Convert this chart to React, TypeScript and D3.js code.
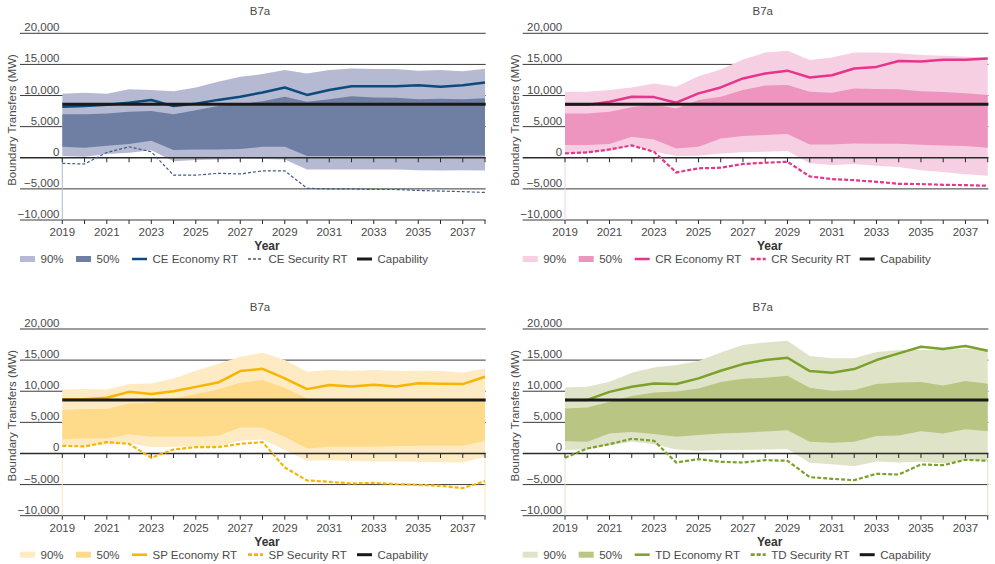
import React from "react";
import * as d3 from "d3";

const years = d3.range(2019, 2039);
const yTicks = [-10000, -5000, 0, 5000, 10000, 15000, 20000];
const xLabelYears = [2019, 2021, 2023, 2025, 2027, 2029, 2031, 2033, 2035, 2037];
const capability = 8600;

const ceEconomy = [8200, 8300, 8500, 8850, 9270, 8300, 8700, 9300, 9800, 10500, 11300, 10100, 10900, 11500, 11500, 11500, 11650, 11400, 11650, 12100];
const ceSecurity = [-900, -1000, 850, 1770, 960, -2800, -2800, -2500, -2600, -2100, -2100, -4900, -5000, -5000, -5100, -5100, -5250, -5350, -5450, -5570];
const ce90High = [10300, 10450, 10300, 11000, 10900, 10700, 11300, 12200, 13000, 13450, 14100, 13550, 14100, 14350, 14250, 14250, 14000, 14100, 13900, 14300];
const ce90Low = [300, 160, 600, 800, 1200, -540, -370, -270, -160, -200, -270, -1900, -1900, -1900, -1900, -1900, -2000, -2050, -2000, -2050];
const ce50High = [7000, 7000, 7100, 7400, 7500, 7000, 7650, 8300, 8600, 9100, 9800, 9000, 9400, 9900, 9700, 9650, 9400, 9500, 9400, 9550];
const ce50Low = [1770, 1600, 1930, 2200, 2730, 1230, 1340, 1340, 1400, 1770, 1770, 270, 270, 300, 300, 300, 300, 320, 350, 375];

const crEconomy = [8500, 8500, 9000, 9800, 9750, 8850, 10350, 11300, 12750, 13550, 14000, 12900, 13250, 14350, 14600, 15550, 15450, 15750, 15750, 15970];
const crSecurity = [700, 860, 1340, 1980, 960, -2360, -1700, -1600, -1000, -800, -640, -3000, -3430, -3600, -3860, -4180, -4230, -4340, -4400, -4500];
const cr90High = [10600, 10600, 10900, 11300, 11950, 11400, 13100, 14200, 15800, 16900, 17200, 15700, 16100, 16900, 16900, 16800, 16500, 16400, 16250, 16100];
const cr90Low = [700, 800, 1100, 2000, 1000, 270, 320, 700, 900, 960, 1070, -900, -1180, -1000, -1290, -1500, -2000, -2300, -2630, -2900];
const cr50High = [7130, 7130, 7400, 8100, 8580, 7900, 9270, 9800, 10900, 11600, 11700, 10600, 10450, 11150, 11040, 11000, 10700, 10560, 10350, 10080];
const cr50Low = [2040, 2040, 2200, 3380, 2950, 1500, 1770, 3100, 3480, 3650, 3800, 2140, 2140, 2300, 2250, 2250, 2090, 1980, 1880, 1600];

const spEconomy = [8700, 8700, 8950, 9900, 9540, 10000, 10700, 11400, 13240, 13600, 12060, 10340, 10990, 10770, 11040, 10770, 11300, 11200, 11150, 12330];
const spSecurity = [1230, 1130, 1820, 1550, -700, 640, 1020, 1020, 1550, 1820, -2250, -4340, -4560, -4820, -4720, -4930, -5040, -5200, -5570, -4450];
const sp90High = [10290, 10340, 10290, 11150, 11260, 12060, 13290, 14360, 15540, 16190, 15000, 13130, 13400, 13240, 13400, 13240, 13290, 13240, 13020, 13670];
const sp90Low = [1300, 1300, 1500, 1700, 1000, 1060, 1100, 1100, 2030, 2250, 540, -1180, -1070, -1200, -1300, -1300, -1340, -1400, -1450, -540];
const sp50High = [6970, 7130, 7130, 8040, 8150, 8840, 9540, 10290, 11360, 11790, 10560, 8840, 8500, 8500, 8500, 8500, 8500, 8500, 8500, 8500];
const sp50Low = [2300, 2410, 2410, 3100, 2680, 2670, 2680, 2840, 4180, 4180, 2680, 800, 1070, 1070, 1070, 1180, 1230, 1230, 1230, 2040];

const tdEconomy = [8600, 8600, 9900, 10720, 11260, 11150, 12060, 13290, 14360, 15010, 15380, 13240, 12970, 13560, 15010, 16080, 17150, 16780, 17260, 16510];
const tdSecurity = [-700, 800, 1500, 2360, 2040, -1450, -910, -1340, -1450, -1070, -1180, -3800, -4070, -4290, -3270, -3380, -1770, -1880, -1020, -1180];
const td90High = [10610, 10720, 11520, 12970, 13830, 14200, 14850, 16240, 17420, 17850, 18120, 15650, 15280, 15280, 16290, 16620, 16620, 16720, 16830, 16620];
const td90Low = [540, 640, 1340, 1880, 1500, 640, 430, 540, 540, 640, 700, -1500, -1720, -2040, -1290, -1450, -1340, -1600, -1070, -1180];
const td50High = [7240, 7400, 8310, 9220, 9810, 9970, 10450, 11470, 12010, 12170, 12490, 10560, 10080, 10180, 11150, 11420, 11470, 10930, 11630, 11200];
const td50Low = [1980, 1880, 3220, 3430, 3110, 2680, 2950, 3220, 3320, 3540, 3750, 1880, 1720, 1880, 2790, 2890, 3590, 3220, 3910, 3590];

const panels = [
  { prefix: "CE", dx: 0, dy: 0, econ: ceEconomy, sec: ceSecurity, hi90: ce90High, lo90: ce90Low, hi50: ce50High, lo50: ce50Low,
    c90: "#b5bad2", c50: "#6f7fa3", cEcon: "#0e4a7b", cSec: "#3f5a86", secW: 1.2, secDash: "3,2", rightEdge: false },
  { prefix: "CR", dx: 502.7, dy: 0, econ: crEconomy, sec: crSecurity, hi90: cr90High, lo90: cr90Low, hi50: cr50High, lo50: cr50Low,
    c90: "#f6cfe2", c50: "#ed95bf", cEcon: "#e6358b", cSec: "#e6358b", secW: 2.2, secDash: "4,2", rightEdge: false },
  { prefix: "SP", dx: 0, dy: 295.7, econ: spEconomy, sec: spSecurity, hi90: sp90High, lo90: sp90Low, hi50: sp50High, lo50: sp50Low,
    c90: "#feeac3", c50: "#fedb8a", cEcon: "#f7b500", cSec: "#f7b500", secW: 2.2, secDash: "4,2", rightEdge: true },
  { prefix: "TD", dx: 502.7, dy: 295.7, econ: tdEconomy, sec: tdSecurity, hi90: td90High, lo90: td90Low, hi50: td50High, lo50: td50Low,
    c90: "#dfe4c9", c50: "#b9c683", cEcon: "#7ba12b", cSec: "#7ba12b", secW: 2.2, secDash: "4,2", rightEdge: true },
];

const FONT = "'Liberation Sans', Arial, Helvetica, sans-serif";
const TXT = "#4a4a4a";

const x = d3.scaleLinear().domain([2019, 2038]).range([62.3, 485]);
const y = d3.scaleLinear().domain([-10000, 20000]).range([220, 33.3]);

function Panel({ p }: { p: any }) {
  const band = (lo: number[], hi: number[]) =>
    d3.area<number>().x((d) => x(d)).y0((_, i) => y(lo[i])).y1((_, i) => y(hi[i]))(years) || "";
  const line = (vals: number[]) => d3.line<number>().x((d) => x(d)).y((_, i) => y(vals[i]))(years) || "";
  const gx0 = 20, gx1 = 485.7;
  const legendY = 259;
  const legend = [
    { type: "rect", color: p.c90, label: "90%", x: 20 },
    { type: "rect", color: p.c50, label: "50%", x: 76 },
    { type: "line", color: p.cEcon, label: `${p.prefix} Economy RT`, x: 132, w: 2.5 },
    { type: "dash", color: p.cSec, label: `${p.prefix} Security RT`, x: 248, w: p.secW + 0.5 },
    { type: "line", color: "#1a1a1a", label: "Capability", x: 357, w: 3 },
  ];
  return (
    <g transform={`translate(${p.dx},${p.dy})`}>
      <text x={260} y={15} textAnchor="middle" fontSize={11.5} fill={TXT}>B7a</text>
      {yTicks.filter((t) => t !== 0).map((t) => (
        <line key={t} x1={gx0} x2={gx1} y1={y(t)} y2={y(t)} stroke="#3a3a3a" strokeWidth={1} />
      ))}
      {yTicks.map((t) => (
        <text key={t} x={59.5} y={y(t) - 2} textAnchor="end" fontSize={11.5} fill={TXT}>
          {d3.format(",")(t)}
        </text>
      ))}
      <line x1={x(2019)} x2={x(2019)} y1={y(0)} y2={y(-10000)} stroke={p.c90} strokeWidth={1} />
      {p.rightEdge && (
        <line x1={x(2038)} x2={x(2038)} y1={y(0)} y2={y(-10000)} stroke={p.c90} strokeWidth={1} />
      )}
      <path d={band(p.lo90, p.hi90)} fill={p.c90} />
      <path d={band(p.lo50, p.hi50)} fill={p.c50} />
      <line x1={gx0} x2={gx1} y1={y(0)} y2={y(0)} stroke="#2a2a2a" strokeWidth={1.5} />
      {years.map((yr) => (
        <g key={yr}>
          <line x1={x(yr)} x2={x(yr)} y1={y(0)} y2={y(0) + 4.5} stroke="#2a2a2a" strokeWidth={1} />
          <line x1={x(yr)} x2={x(yr)} y1={y(-10000)} y2={y(-10000) + 4} stroke="#2a2a2a" strokeWidth={1} />
        </g>
      ))}
      {xLabelYears.map((yr) => (
        <text key={yr} x={x(yr)} y={236} textAnchor="middle" fontSize={11.5} fill={TXT}>{yr}</text>
      ))}
      <path d={line(p.econ)} fill="none" stroke={p.cEcon} strokeWidth={2.5} strokeLinejoin="round" />
      <path d={line(p.sec)} fill="none" stroke={p.cSec} strokeWidth={p.secW} strokeDasharray={p.secDash} />
      <line x1={x(2019)} x2={gx1} y1={y(capability)} y2={y(capability)} stroke="#1a1a1a" strokeWidth={3} />
      <text x={267} y={250} textAnchor="middle" fontSize={12} fontWeight="bold" fill="#333">Year</text>
      <text transform={`translate(16,120) rotate(-90)`} textAnchor="middle" fontSize={11.5} fill={TXT}>
        Boundary Transfers (MW)
      </text>
      {legend.map((l) => (
        <g key={l.label}>
          {l.type === "rect" ? (
            <rect x={l.x} y={legendY - 3} width={15} height={6} fill={l.color} />
          ) : (
            <line x1={l.x} x2={l.x + 15} y1={legendY} y2={legendY} stroke={l.color} strokeWidth={l.w}
              strokeDasharray={l.type === "dash" ? (p.prefix === "CE" ? "3,2" : "4,2") : undefined} />
          )}
          <text x={l.x + 20.5} y={legendY + 4} fontSize={11.5} fill={TXT}>{l.label}</text>
        </g>
      ))}
    </g>
  );
}

export default function App() {
  return (
    <svg width={995} height={564} style={{ position: "absolute", left: 0, top: 0, background: "#fff" }} fontFamily={FONT}>
      <rect width={995} height={564} fill="#fff" />
      {panels.map((p) => (
        <Panel key={p.prefix} p={p} />
      ))}
    </svg>
  );
}
